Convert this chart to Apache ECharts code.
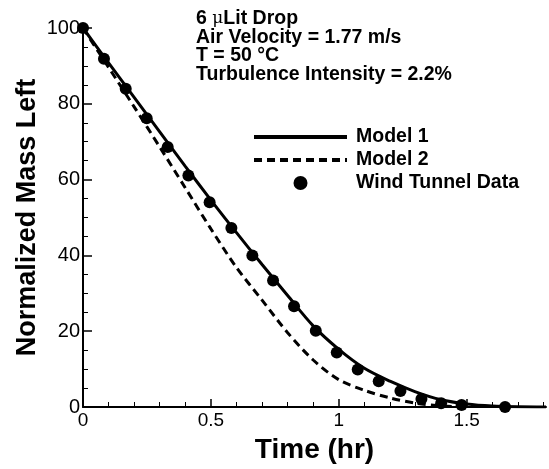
<!DOCTYPE html>
<html>
<head>
<meta charset="utf-8">
<script src="https://cdn.jsdelivr.net/npm/echarts@6/dist/echarts.min.js"></script>
<style>
html,body{margin:0;padding:0;background:#fff;}
#chart{width:549px;height:469px;}
</style>
</head>
<body>
<div id="chart"></div>
<script>
// Wind tunnel measurements (time in hr, normalized mass left)
const tunnelTime = [0, 0.082, 0.167, 0.249, 0.331, 0.412, 0.495, 0.58, 0.662, 0.743, 0.825, 0.91, 0.992, 1.074, 1.156, 1.241, 1.323, 1.40, 1.48, 1.65];
const tunnelMass = [100, 91.9, 84, 76.2, 68.6, 61.1, 54, 47.2, 40, 33.4, 26.6, 20.1, 14.4, 9.9, 6.8, 4.2, 2.1, 1.0, 0.5, 0];

// Model 1 curve
const model1Time = [0, 0.1, 0.2, 0.3, 0.4, 0.5, 0.6, 0.7, 0.8, 0.9, 1.0, 1.1, 1.2, 1.3, 1.4, 1.5, 1.6, 1.7, 1.81];
const model1Mass = [100, 90.8, 81.7, 72.6, 63.5, 54.6, 46, 37.6, 29.4, 21.4, 15.2, 10.2, 6.8, 4.0, 1.9, 0.8, 0.25, 0.05, 0];

// Model 2 curve
const model2Time = [0, 0.1, 0.2, 0.3, 0.4, 0.5, 0.6, 0.7, 0.8, 0.9, 1.0, 1.1, 1.2, 1.3, 1.4, 1.5];
const model2Mass = [100, 89.6, 79.2, 68.6, 57.8, 47, 36.8, 28.2, 19.6, 12.4, 7.2, 4.4, 2.4, 1.0, 0.3, 0];

// Axis ticks
const xMajorTicks = [0, 0.5, 1, 1.5];
const xMinorTicks = [0.1, 0.2, 0.3, 0.4, 0.6, 0.7, 0.8, 0.9, 1.1, 1.2, 1.3, 1.4, 1.6, 1.7, 1.8];
const yMajorTicks = [0, 20, 40, 60, 80, 100];
const yMinorTicks = [5, 10, 15, 25, 30, 35, 45, 50, 55, 65, 70, 75, 85, 90, 95];

const seriesNames = ['Model 1', 'Model 2', 'Wind Tunnel Data'];
const annotationLines = ['Air Velocity = 1.77 m/s', 'T = 50 \u00B0C', 'Turbulence Intensity = 2.2%'];

const pair = (xs, ys) => xs.map((x, i) => [x, ys[i]]);

const FONT = 'Liberation Sans, Arial, Helvetica, sans-serif';
const xMax = 1.81;
const hiddenSymbol = {color: 'rgba(0,0,0,0)', opacity: 0, borderWidth: 0};

const chart = echarts.init(document.getElementById('chart'), null, {renderer: 'canvas'});
chart.setOption({
  backgroundColor: '#ffffff',
  animation: false,
  grid: {left: 83, right: 3, top: 28, bottom: 58, containLabel: false},
  xAxis: [{
    type: 'value', min: 0, max: xMax,
    name: 'Time (hr)', nameLocation: 'middle', nameGap: 29, nameMoveOverlap: false,
    nameTextStyle: {fontFamily: FONT, fontSize: 28, fontWeight: 'bold', color: '#000'},
    axisLine: {show: true, onZero: false, lineStyle: {color: '#000', width: 2}},
    axisTick: {show: true, inside: true, length: 8, lineStyle: {color: '#000', width: 1.5}, customValues: xMajorTicks},
    axisLabel: {show: true, margin: 4, fontFamily: FONT, fontSize: 19, color: '#000', customValues: xMajorTicks,
      formatter: v => String(v)},
    splitLine: {show: false}
  }, {
    type: 'value', min: 0, max: xMax, position: 'bottom',
    axisLine: {show: false},
    axisTick: {show: true, inside: true, length: 5, lineStyle: {color: '#000', width: 1}, customValues: xMinorTicks},
    axisLabel: {show: false},
    splitLine: {show: false}
  }],
  yAxis: [{
    type: 'value', min: 0, max: 100,
    name: 'Normalized Mass Left', nameLocation: 'middle', nameGap: 42, nameRotate: 90, nameMoveOverlap: false,
    nameTextStyle: {fontFamily: FONT, fontSize: 27, fontWeight: 'bold', color: '#000'},
    axisLine: {show: true, onZero: false, lineStyle: {color: '#000', width: 2}},
    axisTick: {show: true, inside: true, length: 9, lineStyle: {color: '#000', width: 1.5}, customValues: yMajorTicks},
    axisLabel: {show: true, margin: 3, fontFamily: FONT, fontSize: 20, color: '#000', customValues: yMajorTicks},
    splitLine: {show: false}
  }, {
    type: 'value', min: 0, max: 100, position: 'left',
    axisLine: {show: false},
    axisTick: {show: true, inside: true, length: 5, lineStyle: {color: '#000', width: 1}, customValues: yMinorTicks},
    axisLabel: {show: false},
    splitLine: {show: false}
  }],
  legend: {
    orient: 'vertical', left: 247, top: 122,
    itemWidth: 93, itemHeight: 14, itemGap: 3,
    data: [
      {name: seriesNames[0], itemStyle: hiddenSymbol},
      {name: seriesNames[1], itemStyle: hiddenSymbol},
      {name: seriesNames[2], icon: 'circle'}
    ],
    lineStyle: {width: 4},
    textStyle: {fontFamily: FONT, fontSize: 19.5, fontWeight: 'bold', color: '#000', lineHeight: 14, padding: [0, 0, 0, 4]}
  },
  graphic: [{
    type: 'text', left: 196, top: 9, z: 100,
    style: {
      text: '{a|6 }{mu|\u03BC}{a|Lit Drop}\n' + annotationLines.map(s => '{a|' + s + '}').join('\n'),
      rich: {
        a: {fontFamily: FONT, fontSize: 19.5, fontWeight: 'bold', fill: '#000', lineHeight: 18.5},
        mu: {fontFamily: 'DejaVu Serif, serif', fontSize: 17, fontWeight: 'normal', fill: '#000', lineHeight: 18.5}
      }
    }
  }],
  series: [{
    name: seriesNames[0], type: 'line', data: pair(model1Time, model1Mass),
    smooth: 0.3, symbol: 'none', z: 3,
    lineStyle: {color: '#000', width: 3, type: 'solid'},
    itemStyle: {color: '#000'}
  }, {
    name: seriesNames[1], type: 'line', data: pair(model2Time, model2Mass),
    smooth: 0.3, symbol: 'none', z: 2,
    lineStyle: {color: '#000', width: 3, type: [8, 5]},
    itemStyle: {color: '#000'}
  }, {
    name: seriesNames[2], type: 'scatter', data: pair(tunnelTime, tunnelMass),
    symbol: 'circle', symbolSize: 12, z: 4,
    itemStyle: {color: '#000', opacity: 1}
  }]
});
</script>
</body>
</html>
